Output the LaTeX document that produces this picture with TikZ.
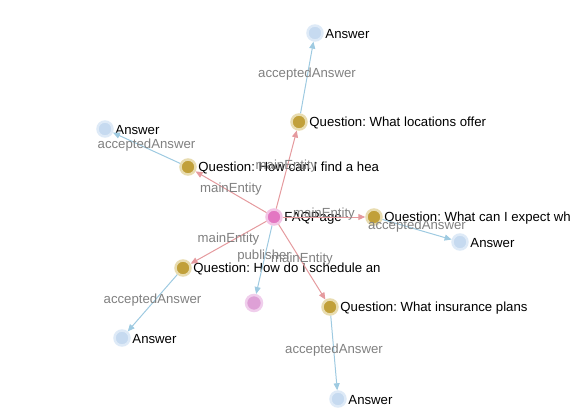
\documentclass[tikz,border=0pt]{standalone}
\usepackage{fontspec}
\setmainfont{Liberation Sans}
\usetikzlibrary{arrows.meta}
\definecolor{qcore}{RGB}{193,160,58}
\definecolor{qhalo}{RGB}{232,220,176}
\definecolor{acore}{RGB}{198,218,240}
\definecolor{ahalo}{RGB}{222,234,247}
\definecolor{fcore}{RGB}{227,119,194}
\definecolor{fhalo}{RGB}{243,196,229}
\definecolor{pcore}{RGB}{222,160,214}
\definecolor{phalo}{RGB}{240,206,236}
\definecolor{mcol}{RGB}{229,154,158}
\definecolor{bcol}{RGB}{158,202,225}
\definecolor{egray}{RGB}{128,128,128}
\frenchspacing
\begin{document}
\begin{tikzpicture}[x=1pt,y=-1pt,
  ent/.style={circle,inner sep=0pt,minimum size=15pt,line width=2.5pt},
  qnode/.style={ent,fill=qcore,draw=qhalo},
  anode/.style={ent,fill=acore,draw=ahalo},
  fnode/.style={ent,fill=fcore,draw=fhalo},
  pnode/.style={ent,fill=pcore,draw=phalo,minimum size=16pt},
  lbl/.style={inner sep=0pt,yshift=-1pt,font=\fontsize{13.2}{15}\selectfont,text=black},
  elbl/.style={midway,anchor=base,inner sep=0pt,font=\fontsize{13.2}{15}\selectfont,text=egray},
  medge/.style={draw=mcol,line width=1pt,-{Triangle[length=7pt,width=6pt]}},
  bedge/.style={draw=bcol,line width=1pt,-{Triangle[length=7pt,width=6pt]}}]
\useasboundingbox (0,0) rectangle (587,416);
% nodes
\node[fnode,label={[lbl,label distance=1.5pt]0:FAQPage}] (faq) at (274,217) {};
\node[qnode,label={[lbl,label distance=1.5pt]0:Question: What locations offer}] (q1) at (299,122) {};
\node[anode,label={[lbl,label distance=1.5pt]0:Answer}] (a1) at (315,33) {};
\node[qnode,label={[lbl,label distance=1.5pt]0:Question: How can I find a hea}] (q2) at (188,167) {};
\node[anode,label={[lbl,label distance=1.5pt]0:Answer}] (a2) at (105,129) {};
\node[qnode,label={[lbl,label distance=1.5pt]0:Question: What can I expect wh}] (q3) at (374,217) {};
\node[anode,label={[lbl,label distance=1.5pt]0:Answer}] (a3) at (460,242) {};
\node[qnode,label={[lbl,label distance=1.5pt]0:Question: How do I schedule an}] (q4) at (183,268) {};
\node[anode,label={[lbl,label distance=1.5pt]0:Answer}] (a4) at (122,338) {};
\node[pnode] (pub) at (254,303) {};
\node[qnode,label={[lbl,label distance=1.5pt]0:Question: What insurance plans}] (q5) at (330,307) {};
\node[anode,label={[lbl,label distance=1.5pt]0:Answer}] (a5) at (338,399) {};
% edges
\draw[medge] (faq) -- (q1) node[elbl]{mainEntity};
\draw[bedge] (q1) -- (a1) node[elbl]{acceptedAnswer};
\draw[medge] (faq) -- (q2) node[elbl]{mainEntity};
\draw[bedge] (q2) -- (a2) node[elbl]{acceptedAnswer};
\draw[medge] (faq) -- (q3) node[elbl]{mainEntity};
\draw[bedge] (q3) -- (a3) node[elbl]{acceptedAnswer};
\draw[medge] (faq) -- (q4) node[elbl]{mainEntity};
\draw[bedge] (q4) -- (a4) node[elbl]{acceptedAnswer};
\draw[bedge] (faq) -- (pub) node[elbl]{publisher};
\draw[medge] (faq) -- (q5) node[elbl]{mainEntity};
\draw[bedge] (q5) -- (a5) node[elbl]{acceptedAnswer};
\end{tikzpicture}
\end{document}
